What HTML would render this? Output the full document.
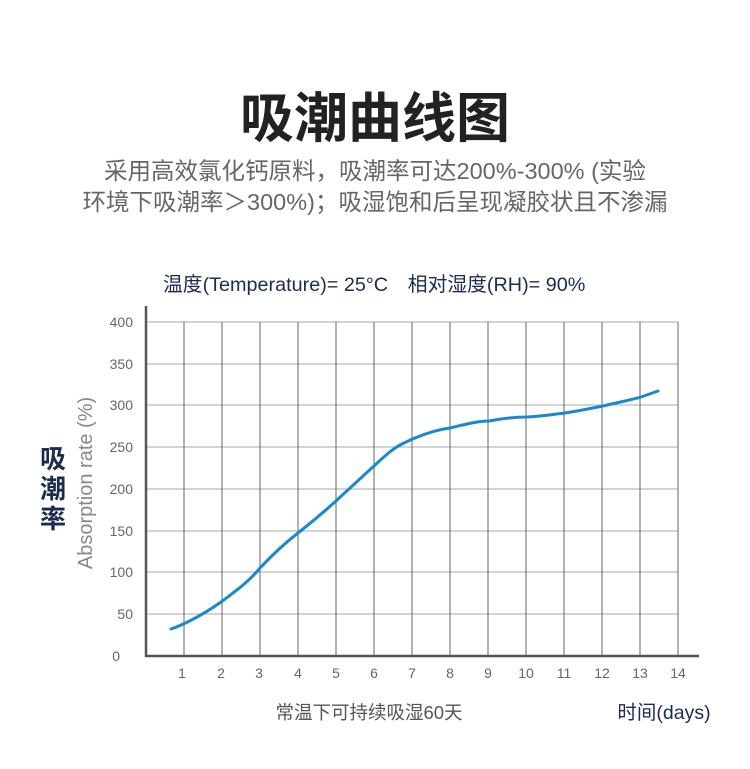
<!DOCTYPE html>
<html><head><meta charset="utf-8"><style>
body{margin:0;background:#fff;width:750px;height:769px;overflow:hidden;font-family:"Liberation Sans","Noto Sans CJK SC",sans-serif;}
</style></head><body>
<svg width="750" height="769" viewBox="0 0 750 769" xmlns="http://www.w3.org/2000/svg" style="position:absolute;left:0;top:0">
<g font-family="Liberation Sans, Noto Sans CJK SC, sans-serif">
<text x="375" y="137" text-anchor="middle" font-size="54" font-weight="bold" fill="#222">吸潮曲线图</text>
<text x="375" y="179" text-anchor="middle" font-size="23.5" fill="#666">采用高效氯化钙原料，吸潮率可达200%-300% (实验</text>
<text x="375" y="210" text-anchor="middle" font-size="23.5" fill="#666">环境下吸潮率＞300%)；吸湿饱和后呈现凝胶状且不渗漏</text>
<text x="163" y="291" font-size="19.8" fill="#1d2b4f">温度(Temperature)= 25°C　相对湿度(RH)= 90%</text>
<g font-size="26" font-weight="bold" fill="#1d2b4f" text-anchor="middle">
<text x="53" y="468">吸</text><text x="53" y="498">潮</text><text x="53" y="528">率</text></g>
<text transform="translate(92,483) rotate(-90)" text-anchor="middle" font-size="20" fill="#888">Absorption rate (%)</text>
<g stroke="#aaa" stroke-width="1">
<line x1="146" y1="322" x2="678" y2="322"/><line x1="146" y1="364" x2="678" y2="364"/>
<line x1="146" y1="405" x2="678" y2="405"/><line x1="146" y1="447" x2="678" y2="447"/>
<line x1="146" y1="489" x2="678" y2="489"/><line x1="146" y1="531" x2="678" y2="531"/>
<line x1="146" y1="572" x2="678" y2="572"/><line x1="146" y1="614" x2="678" y2="614"/>
</g>
<g stroke="#666" stroke-width="1">
<line x1="184" y1="322" x2="184" y2="656"/><line x1="222" y1="322" x2="222" y2="656"/>
<line x1="260" y1="322" x2="260" y2="656"/><line x1="298" y1="322" x2="298" y2="656"/>
<line x1="336" y1="322" x2="336" y2="656"/><line x1="374" y1="322" x2="374" y2="656"/>
<line x1="412" y1="322" x2="412" y2="656"/><line x1="450" y1="322" x2="450" y2="656"/>
<line x1="488" y1="322" x2="488" y2="656"/><line x1="526" y1="322" x2="526" y2="656"/>
<line x1="564" y1="322" x2="564" y2="656"/><line x1="602" y1="322" x2="602" y2="656"/>
<line x1="640" y1="322" x2="640" y2="656"/><line x1="678" y1="322" x2="678" y2="656"/>
</g>
<g stroke="#555" stroke-width="2.5">
<line x1="146" y1="306" x2="146" y2="657"/><line x1="145" y1="656" x2="699" y2="656"/></g>
<g font-size="14" fill="#666" text-anchor="end">
<text x="133" y="327">400</text><text x="133" y="369">350</text><text x="133" y="410">300</text>
<text x="133" y="452">250</text><text x="133" y="494">200</text><text x="133" y="536">150</text>
<text x="133" y="577">100</text><text x="133" y="619">50</text><text x="120" y="661">0</text></g>
<g font-size="14" fill="#666" text-anchor="middle">
<text x="182" y="678">1</text><text x="221" y="678">2</text><text x="259" y="678">3</text><text x="298" y="678">4</text>
<text x="336" y="678">5</text><text x="374" y="678">6</text><text x="412" y="678">7</text><text x="450" y="678">8</text>
<text x="488" y="678">9</text><text x="526" y="678">10</text><text x="564" y="678">11</text><text x="602" y="678">12</text>
<text x="640" y="678">13</text><text x="678" y="678">14</text></g>
<path d="M171,629 C180,626 200,617 221,602 C240,588 250,580 260,568 C275,552 285,543 298,533 C312,522 325,511 337,500 C350,488 362,477 375,465 C385,456 392,449 402,444 C420,435 435,430 450,428 C470,423 480,421 489,421 C505,418 515,417 527,417 C545,416 555,414 565,413 C585,410 592,408 603,406 C620,402 635,399 641,397 L658,391" fill="none" stroke="#1a88cc" stroke-width="3" stroke-linecap="round"/>
<text x="369" y="719" text-anchor="middle" font-size="18.5" fill="#555">常温下可持续吸湿60天</text>
<text x="664" y="719" text-anchor="middle" font-size="19.5" fill="#1d2b4f">时间(days)</text>
</g></svg>
</body></html>
